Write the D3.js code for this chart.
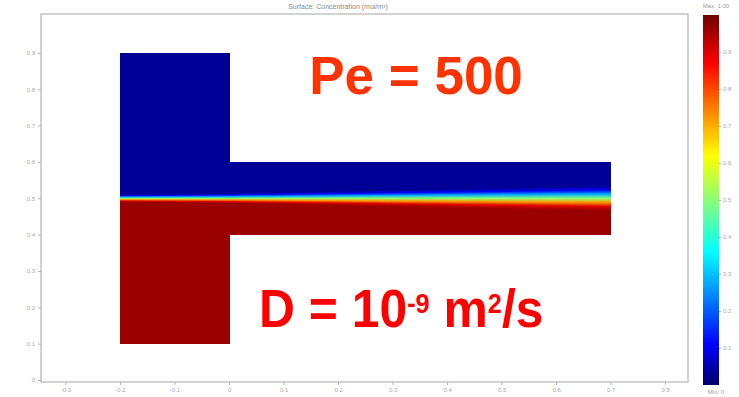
<!DOCTYPE html>
<html>
<head>
<meta charset="utf-8">
<script src="https://cdn.jsdelivr.net/npm/d3@7"></script>
<style>
  html, body { margin: 0; padding: 0; background: #ffffff; }
  svg { display: block; }
</style>
</head>
<body>
<svg id="chart" width="739" height="397"></svg>
<script>
// ---------- data ----------
const xTicks = [-3, -2, -1, 0, 1, 2, 3, 4, 5, 6, 7, 8];
const xTickLabels = ["-0.3", "-0.2", "-0.1", "0", "0.1", "0.2", "0.3", "0.4", "0.5", "0.6", "0.7", "0.8"];
const yTicks = [0, 1, 2, 3, 4, 5, 6, 7, 8, 9];
const yTickLabels = ["0", "0.1", "0.2", "0.3", "0.4", "0.5", "0.6", "0.7", "0.8", "0.9"];
const colorTicks = [0.1, 0.2, 0.3, 0.4, 0.5, 0.6, 0.7, 0.8, 0.9];
const colorTickLabels = ["0.1", "0.2", "0.3", "0.4", "0.5", "0.6", "0.7", "0.8", "0.9"];

// channel geometry (domain units): [x0, x1, y0, y1]
const inletChannel = [-2, 0, 1, 9];
const outletChannel = [0, 7, 4, 6];
const interfaceY = 5;

// diffusion-layer half width along the channel
const widthStationsX = [-2, 0, 1, 2, 3, 4, 5, 6, 7];
const widthStationsW = [0.07, 0.09, 0.11, 0.13, 0.15, 0.17, 0.19, 0.21, 0.23];

// concentration across the interface (offset in half widths -> value)
const profileS = [-1.5, -1, -0.5, 0, 0.5, 1, 1.5];
const profileC = [0.96, 0.90, 0.72, 0.50, 0.28, 0.10, 0.03];

// jet colour map stops
const jetOffsets = [0, 0.11, 0.36, 0.62, 0.87, 1];
const jetColors = ["#00006e", "#0000ff", "#00ffff", "#ffff00", "#ff0000", "#6e0000"];

// ---------- scales ----------
const svg = d3.select("#chart");
const x = d3.scaleLinear().domain([-3.45, 8.42]).range([41, 688]);
const y = d3.scaleLinear().domain([-0.055, 10.07]).range([382, 14]);
const jet = d3.scaleLinear().domain(jetOffsets).range(jetColors).interpolate(d3.interpolateRgb).clamp(true);
const widthAt = d3.scaleLinear().domain(widthStationsX).range(widthStationsW).clamp(true);
const cbar = d3.scaleLinear().domain([0, 1]).range([385, 15]);

const defs = svg.append("defs");

// ---------- title ----------
svg.append("text").attr("x", 338).attr("y", 9)
  .attr("text-anchor", "middle").attr("font-family", "Liberation Sans, Arial, sans-serif")
  .attr("font-size", 7).attr("fill", "#8a8a8a")
  .text("Surface: Concentration (mol/m³)");

// ---------- field ----------
const colStep = 0.125;
const cols = [];
for (let xa = inletChannel[0]; xa < outletChannel[1] - 1e-9; xa += colStep) {
  const xb = Math.min(xa + colStep, outletChannel[1]);
  const ch = (xa + 1e-9 < inletChannel[1]) ? inletChannel : outletChannel;
  cols.push({ xa, xb, y0: ch[2], y1: ch[3], w: widthAt((xa + xb) / 2) });
}

cols.forEach((c, i) => {
  const g = defs.append("linearGradient")
    .attr("id", "col" + i)
    .attr("gradientUnits", "userSpaceOnUse")
    .attr("x1", 0).attr("x2", 0)
    .attr("y1", y(interfaceY - 1.5 * c.w))
    .attr("y2", y(interfaceY + 1.5 * c.w));
  profileS.forEach((s, k) => {
    g.append("stop")
      .attr("offset", (s + 1.5) / 3)
      .attr("stop-color", jet(profileC[k]));
  });
});

svg.append("g").selectAll("rect").data(cols).join("rect")
  .attr("x", d => x(d.xa))
  .attr("width", d => x(d.xb) - x(d.xa) + 0.6)
  .attr("y", d => y(d.y1))
  .attr("height", d => y(d.y0) - y(d.y1))
  .attr("fill", (d, i) => `url(#col${i})`)
  .attr("shape-rendering", "crispEdges");

// ---------- frame & axes ----------
svg.append("rect")
  .attr("x", x.range()[0]).attr("y", y.range()[1])
  .attr("width", x.range()[1] - x.range()[0])
  .attr("height", y.range()[0] - y.range()[1])
  .attr("fill", "none").attr("stroke", "#b4b4b4").attr("stroke-width", 1.2);

const axisStyle = g => {
  g.select(".domain").remove();
  g.selectAll("line").attr("stroke", "#b4b4b4");
  g.selectAll("text").attr("fill", "#a8a8a8")
    .attr("font-family", "Liberation Sans, Arial, sans-serif").attr("font-size", 6);
};

svg.append("g").attr("transform", `translate(0,${y.range()[0]})`)
  .call(d3.axisBottom(x).tickValues(xTicks).tickSize(3).tickPadding(3)
    .tickFormat((d, i) => xTickLabels[i]))
  .call(axisStyle);

svg.append("g").attr("transform", `translate(${x.range()[0]},0)`)
  .call(d3.axisLeft(y).tickValues(yTicks).tickSize(3).tickPadding(3)
    .tickFormat((d, i) => yTickLabels[i]))
  .call(axisStyle);

// ---------- colour bar ----------
const cg = defs.append("linearGradient").attr("id", "cbar")
  .attr("x1", 0).attr("x2", 0).attr("y1", 1).attr("y2", 0);
jetOffsets.forEach((o, k) => cg.append("stop").attr("offset", o).attr("stop-color", jetColors[k]));

svg.append("rect").attr("x", 703).attr("y", cbar(1))
  .attr("width", 16).attr("height", cbar(0) - cbar(1))
  .attr("fill", "url(#cbar)");

svg.append("g").attr("transform", "translate(719,0)")
  .call(d3.axisRight(cbar).tickValues(colorTicks).tickSize(2).tickPadding(2)
    .tickFormat((d, i) => colorTickLabels[i]))
  .call(axisStyle);

svg.append("text").attr("x", 716).attr("y", 8).attr("text-anchor", "middle")
  .attr("font-family", "Liberation Sans, Arial, sans-serif").attr("font-size", 6)
  .attr("fill", "#9a9a9a").text("Max: 1.00");
svg.append("text").attr("x", 716).attr("y", 394).attr("text-anchor", "middle")
  .attr("font-family", "Liberation Sans, Arial, sans-serif").attr("font-size", 6)
  .attr("fill", "#9a9a9a").text("Min: 0");

// ---------- annotations ----------
svg.append("text").attr("x", 416).attr("y", 94).attr("text-anchor", "middle")
  .attr("font-family", "Liberation Sans, Arial, sans-serif").attr("font-weight", "bold")
  .attr("font-size", 53).attr("fill", "#ff3300")
  .text("Pe = 500");

const t = svg.append("text").attr("x", 0).attr("y", 0)
  .attr("transform", "translate(259,327) scale(0.94,1)")
  .attr("font-family", "Liberation Sans, Arial, sans-serif").attr("font-weight", "bold")
  .attr("font-size", 53).attr("fill", "#ff0000");
t.append("tspan").text("D = 10");
t.append("tspan").attr("font-size", 27).attr("dy", -14).text("-9");
t.append("tspan").attr("dy", 14).text(" m");
t.append("tspan").attr("font-size", 27).attr("dy", -14).text("2");
t.append("tspan").attr("dy", 14).text("/s");
</script>
</body>
</html>
